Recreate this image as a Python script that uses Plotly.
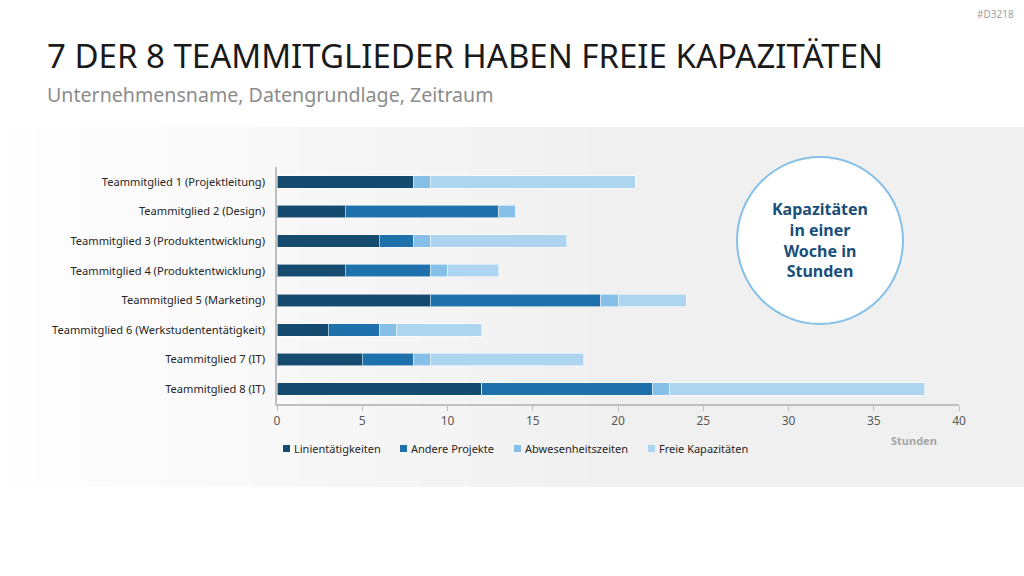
import plotly.graph_objects as go

# ---------------- data ----------------
members = [
    "Teammitglied 1 (Projektleitung)",
    "Teammitglied 2 (Design)",
    "Teammitglied 3 (Produktentwicklung)",
    "Teammitglied 4 (Produktentwicklung)",
    "Teammitglied 5 (Marketing)",
    "Teammitglied 6 (Werkstudententätigkeit)",
    "Teammitglied 7 (IT)",
    "Teammitglied 8 (IT)",
]
series_names = ["Linientätigkeiten", "Andere Projekte", "Abwesenheitszeiten", "Freie Kapazitäten"]
linien = [8, 4, 6, 4, 9, 3, 5, 12]
andere = [0, 9, 2, 5, 10, 3, 3, 10]
abwesend = [1, 1, 1, 1, 1, 1, 1, 1]
frei = [12, 0, 8, 3, 4, 5, 9, 15]
x_ticks = [0, 5, 10, 15, 20, 25, 30, 35, 40]

colors = ["#164B70", "#1F71AC", "#86C0E8", "#AED5F0"]
values = [linien, andere, abwesend, frei]

# ---------------- layout geometry (pixels) ----------------
W, H = 1024, 576
L, R, T, B = 277, 65, 167, 172
PW = W - L - R
PH = H - T - B


def px(x):
    return (x - L) / PW


def py(y):
    return (H - B - y) / PH


font = "Noto Sans"

fig = go.Figure()
for name, vals, col in zip(series_names, values, colors):
    fig.add_trace(go.Bar(
        y=members, x=vals, name=name, orientation="h",
        marker=dict(color=col, line=dict(color="rgba(255,255,255,0.55)", width=1)),
        width=0.42, showlegend=False,
    ))

shapes = []
# background gradient band
x_start, x_end = 8, 620
n = 40
c0, c1 = 254, 240
for i in range(n):
    xa = x_start + (x_end - x_start) * i / n
    xb = x_start + (x_end - x_start) * (i + 1) / n + 1
    c = round(c0 + (c1 - c0) * i / (n - 1))
    shapes.append(dict(type="rect", xref="paper", yref="paper",
                       x0=px(xa), x1=px(xb), y0=py(487), y1=py(127),
                       fillcolor=f"rgb({c},{c},{c})", line=dict(width=0), layer="below"))
shapes.append(dict(type="rect", xref="paper", yref="paper",
                   x0=px(x_end), x1=px(W), y0=py(487), y1=py(127),
                   fillcolor="rgb(240,240,240)", line=dict(width=0), layer="below"))
# circle
shapes.append(dict(type="circle", xref="paper", yref="paper",
                   x0=px(737), x1=px(903), y0=py(324), y1=py(157),
                   fillcolor="white", line=dict(color="#86C0E8", width=2), layer="above"))

annotations = [
    dict(text="7 DER 8 TEAMMITGLIEDER HABEN FREIE KAPAZITÄTEN", xref="paper", yref="paper",
         x=px(45), y=py(55), xanchor="left", yanchor="middle", showarrow=False,
         font=dict(family=font, size=33, color="#1A1A1A")),
    dict(text="Unternehmensname, Datengrundlage, Zeitraum", xref="paper", yref="paper",
         x=px(45), y=py(94), xanchor="left", yanchor="middle", showarrow=False,
         font=dict(family=font, size=19.6, color="#8C8C8C")),
    dict(text="#D3218", xref="paper", yref="paper",
         x=px(1016), y=py(14), xanchor="right", yanchor="middle", showarrow=False,
         font=dict(family=font, size=10, color="#A0A0A0")),
    dict(text="<b>Kapazitäten<br>in einer<br>Woche in<br>Stunden</b>", xref="paper", yref="paper",
         x=px(820), y=py(240), xanchor="center", yanchor="middle", showarrow=False,
         font=dict(family=font, size=16, color="#1A4F7A"), align="center"),
    dict(text="<b>Stunden</b>", xref="paper", yref="paper",
         x=px(939), y=py(440), xanchor="right", yanchor="middle", showarrow=False,
         font=dict(family=font, size=11, color="#A6A6A6")),
]

# legend (manual)
leg_x = [283, 400, 514, 648]
for name, col, lx in zip(series_names, colors, leg_x):
    shapes.append(dict(type="rect", xref="paper", yref="paper",
                       x0=px(lx), x1=px(lx + 7), y0=py(452), y1=py(445),
                       fillcolor=col, line=dict(width=0)))
    annotations.append(dict(text=name, xref="paper", yref="paper",
                            x=px(lx + 9), y=py(448), xanchor="left", yanchor="middle",
                            showarrow=False, font=dict(family=font, size=11, color="#262626")))

fig.update_layout(
    barmode="stack",
    width=W, height=H,
    margin=dict(l=L, r=R, t=T, b=B),
    paper_bgcolor="white",
    plot_bgcolor="rgba(0,0,0,0)",
    shapes=shapes,
    annotations=annotations,
    font=dict(family=font),
    xaxis=dict(range=[0, 40], tickvals=x_ticks, showgrid=False, zeroline=False,
               showline=True, linecolor="#BFBFBF", linewidth=1.5,
               ticks="outside", ticklen=5, tickcolor="#BFBFBF",
               tickfont=dict(family=font, size=12, color="#595959")),
    yaxis=dict(categoryorder="array", categoryarray=members, autorange="reversed",
               showgrid=False, zeroline=False, showline=True, linecolor="#BFBFBF", linewidth=1.5,
               ticks="", ticklabelstandoff=8,
               tickfont=dict(family=font, size=11.1, color="#262626")),
)

fig.write_html("out.html")
